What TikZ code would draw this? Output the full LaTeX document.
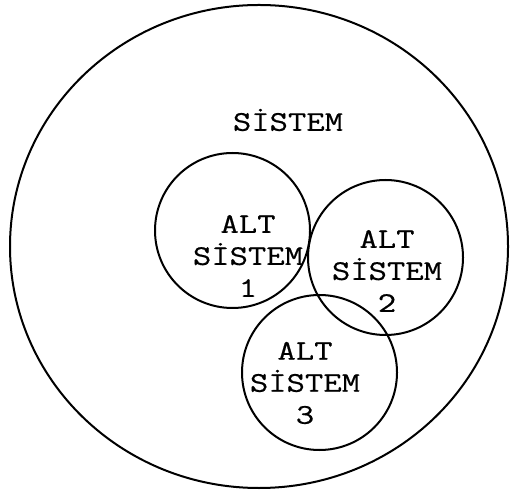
\documentclass[tikz,border=0pt]{standalone}
\usepackage{fontspec}
\setmonofont{Latin Modern Mono}[FakeStretch=1.25, FakeBold=0.6]
\usepackage{tikz}

\tikzset{
  ring/.style={line width=2pt, draw=black},
  label/.style={font=\ttfamily\fontsize{28.5}{32}\selectfont, align=center, inner sep=0pt}
}

\begin{document}
\begin{tikzpicture}[x=1pt, y=1pt]
    \useasboundingbox (0,0) rectangle (510,492);
    % whole system
    \draw[ring] (259,245.5) ellipse [x radius=249, y radius=241.5];
    \node[label] (sys) at (288,372) {SİSTEM};

    % sub-systems
    \draw[ring] (232.5,261.5) circle [radius=77.5];
    \draw[ring] (385.5,234.5) circle [radius=77.5];
    \draw[ring] (319.5,119.5) circle [radius=77.5];

    \node[label] (alt1) at (248,236) {ALT\\SİSTEM\\1};
    \node[label] (alt2) at (387,221) {ALT\\SİSTEM\\2};
    \node[label] (alt3) at (305,109) {ALT\\SİSTEM\\3};
\end{tikzpicture}
\end{document}
